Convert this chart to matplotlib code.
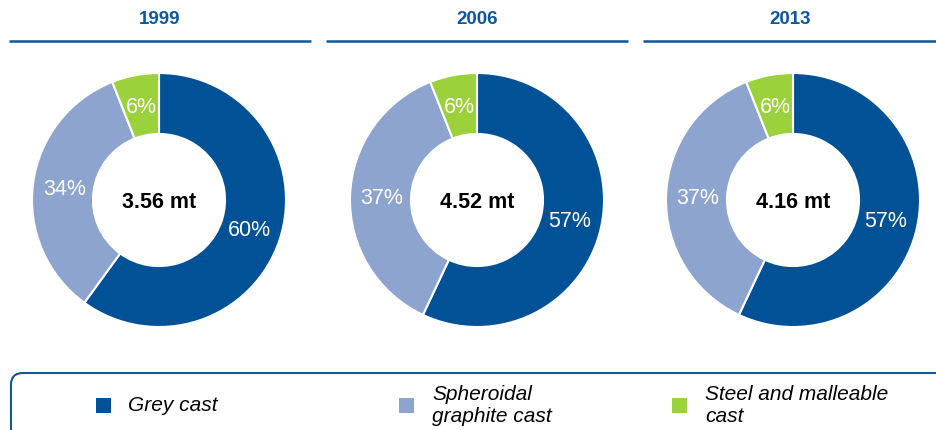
import matplotlib
matplotlib.use("Agg")
import matplotlib.pyplot as plt
from matplotlib.patches import FancyBboxPatch, Rectangle

years = ["1999", "2006", "2013"]
totals = ["3.56 mt", "4.52 mt", "4.16 mt"]
categories = ["Grey cast", "Spheroidal\ngraphite cast", "Steel and malleable\ncast"]
grey_cast = [60, 57, 57]
spheroidal = [34, 37, 37]
steel = [6, 6, 6]

colors = ["#005196", "#8DA4CF", "#9BD13A"]
title_color = "#0D56A0"
FONT = "Liberation Sans"

W, H = 937, 431
fig = plt.figure(figsize=(W / 100, H / 100), dpi=100)
ax = fig.add_axes([0, 0, 1, 1])

centers_x = [159, 477, 793]
center_y = 201
R = 127
line_spans = [(9, 311), (326, 628), (643, 937)]

for i, yr in enumerate(years):
    vals = [grey_cast[i], spheroidal[i], steel[i]]
    cx = centers_x[i]
    ax.pie(
        vals, colors=colors, startangle=-90, counterclock=True,
        center=(cx, center_y), radius=R, frame=True,
        wedgeprops=dict(width=R * 0.48, edgecolor="white", linewidth=1.5),
        autopct=lambda p: f"{p:.0f}%", pctdistance=0.75,
        textprops=dict(color="white", fontsize=15.5, family=FONT))
    ax.text(cx, center_y + 2, totals[i], ha="center", va="center",
            fontsize=15.5, fontweight="bold", family=FONT, color="black")
    x0, x1 = line_spans[i]
    ax.text((x0 + x1) / 2, 19, yr, ha="center", va="center", fontsize=13.5,
            fontweight="bold", family=FONT, color=title_color)
    ax.plot([x0, x1], [42, 42], color=title_color, lw=1.8, solid_capstyle="butt")

ax.set_xlim(0, W)
ax.set_ylim(H, 0)
ax.set_aspect("equal")
ax.axis("off")

box = FancyBboxPatch((11, 374), 960, 80, boxstyle="round,pad=0,rounding_size=12",
                     facecolor="none", edgecolor=title_color, lw=1.5, clip_on=True)
ax.add_patch(box)

leg_sq_x = [96, 399, 672]
leg_txt_x = [128, 432, 705]
for i, cat in enumerate(categories):
    ax.add_patch(Rectangle((leg_sq_x[i], 399), 15, 15, facecolor=colors[i], edgecolor="none"))
    ax.text(leg_txt_x[i], 406, cat, ha="left", va="center", fontsize=15,
            style="italic", family=FONT, color="black", linespacing=1.2)

fig.savefig("out.png", dpi=100)
